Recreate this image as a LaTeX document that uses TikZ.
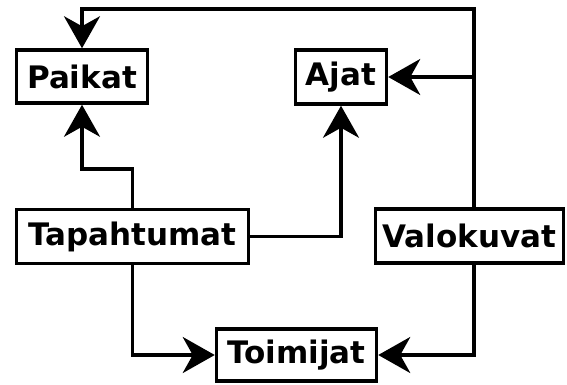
\documentclass[tikz,border=0pt]{standalone}
\usepackage{fontspec}
\setmainfont{DejaVu Sans}
\usetikzlibrary{arrows.meta}
\begin{document}
\begin{tikzpicture}[x=1pt,y=-1pt,
  box/.style={draw=black,line width=3.5pt,fill=white,inner sep=0pt,
    font=\fontsize{31}{36}\selectfont\bfseries},
  arr/.style={line width=3.5pt,-{Stealth[length=32pt,width=36pt,inset=10pt]}}]
\useasboundingbox (0,0) rectangle (567,384);
\node[box,minimum width=131pt,minimum height=53pt] (P) at (82,76.5) {Paikat};
\node[box,minimum width=91pt,minimum height=54pt] (A) at (341,77) {Ajat};
\node[box,minimum width=232pt,minimum height=54pt] (T) at (132.5,236.5) {Tapahtumat};
\node[box,minimum width=188pt,minimum height=54pt] (V) at (469.5,236) {Valokuvat};
\node[box,minimum width=160pt,minimum height=52pt] (O) at (296.5,355) {Toimijat};
\coordinate (tr) at (474,9);
\coordinate (tl) at (82,9);
\draw[arr] (tr |- V.north) -- (tr) -- (tl) -- (P.north);
\draw[arr] (tr |- A.east) -- (A.east);
\draw[arr] (T.north) -- (T.north |- 0,169) -| (P.south);
\draw[arr] (T.east) -| (A.south);
\draw[arr] (T.south) |- (O.west);
\draw[arr] (tr |- V.south) |- (O.east);
\end{tikzpicture}
\end{document}
